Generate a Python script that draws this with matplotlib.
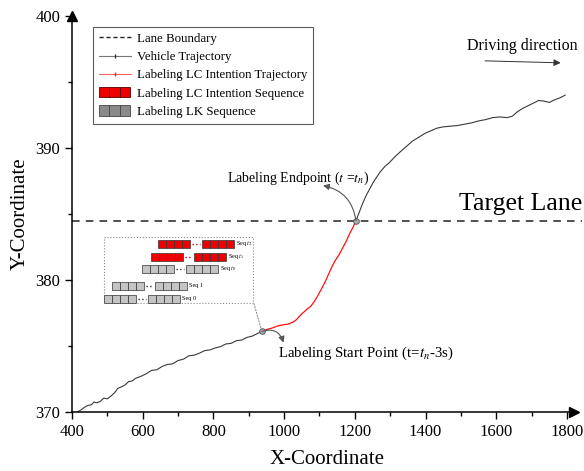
import numpy as np
import matplotlib
matplotlib.use("Agg")
import matplotlib.pyplot as plt
from matplotlib.lines import Line2D
from matplotlib.legend_handler import HandlerBase
from matplotlib.patches import Rectangle

plt.rcParams["font.family"] = ["Liberation Serif", "DejaVu Serif"]
plt.rcParams["mathtext.fontset"] = "stix"

# vehicle trajectory before the labelled window
x_pre = [415, 425, 435, 445, 455, 462, 470, 480, 490, 500, 510, 520, 530, 540, 550, 560,
         570, 580, 595, 610, 625, 640, 655, 670, 685, 700, 715, 730, 745, 760, 775, 790,
         805, 820, 835, 850, 865, 880, 895, 910, 925, 937]
y_pre = [370.0, 370.15, 370.35, 370.5, 370.55, 370.75, 370.7, 370.8, 371.05, 371.0, 371.2,
         371.45, 371.8, 371.9, 372.05, 372.3, 372.35, 372.55, 372.7, 372.9, 373.15, 373.2,
         373.45, 373.6, 373.65, 373.9, 374.0, 374.25, 374.3, 374.45, 374.65, 374.7, 374.85,
         374.95, 375.15, 375.2, 375.4, 375.45, 375.65, 375.75, 375.95, 376.1]
# labelled lane-change intention part
x_lc = [937, 950, 965, 980, 995, 1010, 1025, 1035, 1045, 1055, 1065, 1075, 1085, 1095, 1105,
        1115, 1125, 1135, 1145, 1155, 1165, 1175, 1185, 1195, 1203]
y_lc = [376.1, 376.25, 376.35, 376.5, 376.6, 376.65, 376.8, 377.0, 377.3, 377.55, 377.8, 378.0,
        378.35, 378.8, 379.3, 379.8, 380.4, 381.0, 381.5, 381.9, 382.4, 382.9, 383.5, 384.0, 384.5]
# after crossing the lane boundary
x_post = [1203, 1212, 1222, 1232, 1242, 1252, 1262, 1272, 1285, 1298, 1312, 1328, 1345, 1362,
          1380, 1398, 1415, 1432, 1450, 1470, 1490, 1510, 1530, 1550, 1570, 1590, 1610, 1630,
          1645, 1660, 1675, 1690, 1705, 1720, 1735, 1750, 1765, 1780, 1795]
y_post = [384.5, 385.1, 385.8, 386.4, 386.9, 387.4, 387.8, 388.2, 388.6, 388.9, 389.3, 389.7,
          390.1, 390.5, 390.8, 391.1, 391.3, 391.5, 391.6, 391.65, 391.7, 391.8, 391.9, 392.05,
          392.15, 392.3, 392.35, 392.3, 392.4, 392.75, 393.0, 393.2, 393.4, 393.6, 393.55,
          393.45, 393.65, 393.8, 394.0]
lane_y = 384.5
start_pt = (937, 376.1)
end_pt = (1203, 384.5)

# sequence sketch rows
seq_labels = [r"Seq $t_2$", r"Seq $t_1$", r"Seq $t_0$", "Seq 1", "Seq 0"]
seq_red = [True, True, False, False, False]


class SeqHandler(HandlerBase):
    """three touching squares"""
    def __init__(self, fc, ec):
        super().__init__()
        self.fc, self.ec = fc, ec

    def create_artists(self, legend, orig_handle, xdescent, ydescent, width, height,
                       fontsize, trans):
        s = height * 1.15
        y0 = -ydescent + (height - s) / 2
        return [Rectangle((-xdescent + k * s, y0), s, s, fc=self.fc, ec=self.ec, lw=0.6,
                          transform=trans) for k in range(3)]


fig = plt.figure(figsize=(5.84, 4.71), dpi=100)
ax = fig.add_axes([0.1233, 0.1253, 0.873, 0.8408])

ax.plot(x_pre, y_pre, color="#3a3a3a", lw=0.8)
ax.plot(x_lc, y_lc, color="#ff1010", lw=0.9)
ax.plot(x_post, y_post, color="#3a3a3a", lw=0.8)
ax.axhline(lane_y, color="#222222", ls=(0, (5, 4)), lw=1.1)
for p in (start_pt, end_pt):
    ax.plot(*p, "o", ms=4, mfc="#b0b0b0", mec="#555555", mew=0.7, zorder=5)

ax.set_xlim(400, 1842)
ax.set_ylim(370, 400)
ax.set_xticks(np.arange(400, 1801, 200))
ax.set_xticks(np.arange(500, 1801, 200), minor=True)
ax.set_yticks([370, 380, 390, 400])
ax.set_yticks([375, 385, 395], minor=True)
ax.tick_params(which="major", direction="out", length=5, width=1, labelsize=12)
ax.tick_params(which="minor", direction="out", length=3, width=1)
for s in ("top", "right"):
    ax.spines[s].set_visible(False)
ax.spines["bottom"].set_bounds(400, 1815)
ax.spines["left"].set_linewidth(1.1)
ax.spines["bottom"].set_linewidth(1.1)
ax.plot(1820, 0, ">k", ms=7, transform=ax.get_xaxis_transform(), clip_on=False)
ax.plot(400, 1, "^k", ms=7, transform=ax.get_xaxis_transform(), clip_on=False)

ax.set_xlabel("X-Coordinate", fontsize=15, labelpad=7)
ax.set_ylabel("Y-Coordinate", fontsize=15, labelpad=4)

# legend
h_lane = Line2D([], [], color="#222222", ls=(0, (3, 2)), lw=1)
h_veh = Line2D([], [], color="#777777", lw=0.8, marker="|", ms=3, mec="#333333")
h_lct = Line2D([], [], color="#ff6060", lw=0.8, marker="|", ms=3, mec="#ff2020")
h_lcs = Rectangle((0, 0), 1, 1)
h_lks = Rectangle((0, 0), 1, 1)
leg = ax.legend([h_lane, h_veh, h_lct, h_lcs, h_lks],
                ["Lane Boundary", "Vehicle Trajectory", "Labeling LC Intention Trajectory",
                 "Labeling LC Intention Sequence", "Labeling LK Sequence"],
                loc="upper left", bbox_to_anchor=(0.041, 0.972), borderaxespad=0,
                fontsize=9.3, frameon=True, fancybox=False, handlelength=2.5,
                handletextpad=0.45, labelspacing=0.48, borderpad=0.45,
                handler_map={h_lcs: SeqHandler("#ee0000", "#550000"),
                             h_lks: SeqHandler("#8a8a8a", "#444444")})
leg.get_frame().set_edgecolor("#333333")
leg.get_frame().set_linewidth(0.8)

# annotations
ax.text(1040, 387.7, r"Labeling Endpoint ($t$ =$t_n$)", fontsize=10, ha="center", va="center")
ax.annotate("", xy=(1110, 387.15), xytext=end_pt,
            arrowprops=dict(arrowstyle="-|>", connectionstyle="arc3,rad=0.35",
                            color="#555555", lw=0.8, mutation_scale=9,
                            shrinkA=0, shrinkB=0), zorder=6)
ax.text(983, 374.45, r"Labeling Start Point (t=$t_n$-3s)", fontsize=10.7, ha="left", va="center")
ax.annotate("", xy=(998, 375.25), xytext=start_pt,
            arrowprops=dict(arrowstyle="-|>", connectionstyle="arc3,rad=-0.5",
                            color="#555555", lw=0.8, mutation_scale=9,
                            shrinkA=0, shrinkB=0), zorder=6)
ax.text(1494, 385.75, "Target Lane", fontsize=18.5, ha="left", va="center")
ax.text(1673, 397.7, "Driving direction", fontsize=11.5, ha="center", va="center")
ax.annotate("", xy=(1782, 396.45), xytext=(1568, 396.6),
            arrowprops=dict(arrowstyle="-|>", color="#333333", lw=0.7, mutation_scale=10,
                            shrinkA=0, shrinkB=0))

# inset sketch of sequences
ins = ax.inset_axes([0.0608, 0.273, 0.2961, 0.169])
ins.set_xlim(0, 151)
ins.set_ylim(67, 0)
ins.axis("off")
ins.add_patch(Rectangle((0.5, 0.5), 150, 66, fill=False, ec="#888888", lw=0.8, ls=":"))
row_y = [7, 20, 32, 49, 62]
row_g1 = [55, 48, 39, 9, 1]
row_g2 = [99, 91, 83, 52, 45]
sq = 8
for lab, red, yy, g1, g2 in zip(seq_labels, seq_red, row_y, row_g1, row_g2):
    fc = "#ee0000" if red else "#c4c4c4"
    for g in (g1, g2):
        for k in range(4):
            ins.add_patch(Rectangle((g + k * sq, yy - sq / 2), sq, sq, fc=fc,
                                    ec="#333333", lw=0.5))
    ins.plot([g1 + 4 * sq + 2, g2 - 2], [yy, yy], ls=":", lw=1.0,
             color="#cc0000" if red else "#333333")
    ins.text(g2 + 4 * sq + 2, yy, lab, fontsize=4.5, va="center", ha="left")

ax.annotate("", xy=start_pt, xytext=(0.357, 0.273), textcoords="axes fraction",
            arrowprops=dict(arrowstyle="-", ls=":", color="#888888", lw=0.8,
                            shrinkA=0, shrinkB=2))

fig.savefig("out.png", dpi=100)
